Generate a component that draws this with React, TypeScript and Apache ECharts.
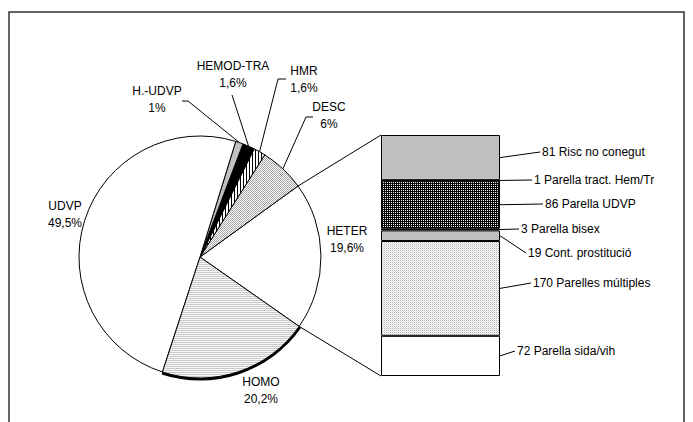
import React, { useEffect, useRef } from 'react';
import * as echarts from 'echarts';

// ---- data ----
const pieNames = ['HETER', 'DESC', 'HMR', 'HEMOD-TRA', 'H.-UDVP', 'UDVP', 'HOMO'];
const pieValues = [19.6, 6, 1.6, 1.6, 1, 49.5, 20.2];

// stacked bar, bottom to top
const barNames = [
  'Parella sida/vih',
  'Parelles múltiples',
  'Cont. prostitució',
  'Parella bisex',
  'Parella UDVP',
  'Parella tract. Hem/Tr',
  'Risc no conegut',
];
const barValues = [72, 170, 19, 3, 86, 1, 81];

// ---- layout ----
const W = 693;
const H = 422;
const PIE_C = [200, 257];
const PIE_R = 121;
const START = -35;
const BAR_LEFT = 381;
const BAR_W = 119;
const BAR_TOP = 135;
const BAR_BOTTOM = 376;
const FONT = "'Liberation Sans', Arial, sans-serif";

// label centers for pie labels
const pieLabelPos: number[][] = [
  [347, 239],
  [329, 115.5],
  [304, 79.5],
  [233, 74.5],
  [157, 99.5],
  [65, 214.5],
  [261, 390.5],
];
// leader line bend points (null = no line)
const pieBends: (number[][] | null)[] = [
  null,
  [[306, 117], [313, 117]],
  [[278, 79], [286, 79]],
  [[232, 95], [232, 95]],
  [[188, 101], [182, 101]],
  null,
  null,
];
// bar label anchors (text left, center y)
const barLabelPos: number[][] = [
  [517, 351],
  [533, 283],
  [528, 253],
  [521, 229],
  [545, 204],
  [534, 180],
  [542, 152],
];

function tile(px: string[][]) {
  const h = px.length;
  const w = px[0].length;
  const c = document.createElement('canvas');
  c.width = w;
  c.height = h;
  const ctx = c.getContext('2d')!;
  for (let y = 0; y < h; y++) {
    for (let x = 0; x < w; x++) {
      ctx.fillStyle = px[y][x];
      ctx.fillRect(x, y, 1, 1);
    }
  }
  return { image: c.toDataURL(), repeat: 'repeat', imageWidth: w, imageHeight: h } as any;
}

export default function App() {
  const ref = useRef<HTMLDivElement>(null);
  useEffect(() => {
    if (!ref.current) return;
    const chart = echarts.init(ref.current, undefined, { renderer: 'svg', width: W, height: H });

    const dotsLight = tile([
      ['#a0a0a0', '#ffffff'],
      ['#ffffff', '#a8a8a8'],
    ]);
    const stripes = tile([['#000000', '#ffffff', '#ffffff']]);
    const hLines = tile([
      ['#c4c4c4', '#d0d0d0'],
      ['#ffffff', '#eeeeee'],
    ]);
    const darkCheck = tile([
      ['#000000', '#ffffff'],
      ['#000000', '#000000'],
    ]);
    const dotsBar = tile([
      ['#b4b4b4', '#ffffff'],
      ['#ffffff', '#dcdcdc'],
    ]);

    const pieColors = ['#ffffff', dotsLight, stripes, '#000000', '#c0c0c0', '#ffffff', hLines];
    const barColors = ['#ffffff', dotsBar, '#c0c0c0', '#000000', darkCheck, '#000000', '#c0c0c0'];

    const fmtPct = (v: number) => String(v).replace('.', ',') + '%';
    const total = barValues.reduce((a, b) => a + b, 0);

    const pieData = pieNames.map((n, i) => ({
      name: n,
      value: pieValues[i],
      itemStyle: { color: pieColors[i] },
      labelLine: { show: pieBends[i] != null },
    }));

    const ringData = pieNames.map((n, i) => ({
      name: n,
      value: pieValues[i],
      itemStyle: { color: n === 'HOMO' ? '#000000' : 'rgba(0,0,0,0)' },
    }));

    const barSeries = barNames.map((n, i) => ({
      type: 'bar',
      name: n,
      stack: 'heter',
      data: [barValues[i]],
      barWidth: '100%',
      itemStyle: { color: barColors[i], borderColor: '#000', borderWidth: 1 },
      label: {
        show: true,
        formatter: () => `${barValues[i]} ${n}`,
        color: '#000',
        fontFamily: FONT,
        fontSize: 12,
      },
      labelLayout: () => ({
        x: barLabelPos[i][0],
        y: barLabelPos[i][1],
        align: 'left',
        verticalAlign: 'middle',
      }),
    }));

    chart.setOption({
      animation: false,
      backgroundColor: '#ffffff',
      grid: {
        left: BAR_LEFT,
        width: BAR_W,
        top: BAR_TOP,
        height: BAR_BOTTOM - BAR_TOP,
        containLabel: false,
      },
      xAxis: { type: 'category', data: [''], show: false },
      yAxis: { type: 'value', min: 0, max: total, show: false },
      series: [
        {
          type: 'pie',
          center: PIE_C,
          radius: PIE_R,
          startAngle: START,
          clockwise: false,
          avoidLabelOverlap: false,
          data: pieData,
          itemStyle: { borderColor: '#000', borderWidth: 1 },
          emphasis: { disabled: true },
          label: {
            show: true,
            position: 'outside',
            formatter: (p: any) => `${p.name}\n${fmtPct(p.value)}`,
            color: '#000',
            fontFamily: FONT,
            fontSize: 12,
            lineHeight: 17,
            align: 'center',
          },
          labelLine: {
            show: true,
            length: 10,
            length2: 10,
            lineStyle: { color: '#000', width: 1 },
          },
          labelLayout: (params: any) => {
            const i = params.dataIndex;
            const p = pieLabelPos[i];
            const res: any = { x: p[0], y: p[1], align: 'center', verticalAlign: 'middle' };
            const b = pieBends[i];
            if (b && params.labelLinePoints) {
              res.labelLinePoints = [params.labelLinePoints[0], b[0], b[1]];
            }
            return res;
          },
        },
        {
          type: 'pie',
          center: PIE_C,
          radius: [PIE_R, PIE_R + 2.5],
          startAngle: START,
          clockwise: false,
          silent: true,
          data: ringData,
          label: { show: false },
          labelLine: { show: false },
          itemStyle: { borderWidth: 0 },
        },
        ...barSeries,
      ],
    });

    // connectors and leader lines computed from the data
    const sumPie = pieValues.reduce((a, b) => a + b, 0);
    const a0 = (START * Math.PI) / 180;
    const a1 = ((START + (360 * pieValues[0]) / sumPie) * Math.PI) / 180;
    const pt = (a: number) => [PIE_C[0] + PIE_R * Math.cos(a), PIE_C[1] - PIE_R * Math.sin(a)];
    const topY = chart.convertToPixel({ yAxisIndex: 0 }, total) as number;
    const botY = chart.convertToPixel({ yAxisIndex: 0 }, 0) as number;
    const pTop = pt(a1);
    const pBot = pt(a0);
    const barRight = BAR_LEFT + BAR_W;

    const graphics: any[] = [
      {
        type: 'rect',
        shape: { x: 9, y: 12, width: 675, height: 440 },
        style: { fill: 'none', stroke: '#333', lineWidth: 1.5 },
        silent: true,
      },
      {
        type: 'line',
        shape: { x1: pTop[0], y1: pTop[1], x2: BAR_LEFT, y2: topY },
        style: { stroke: '#000', lineWidth: 1 },
        silent: true,
      },
      {
        type: 'line',
        shape: { x1: pBot[0], y1: pBot[1], x2: BAR_LEFT, y2: botY },
        style: { stroke: '#000', lineWidth: 1 },
        silent: true,
      },
    ];
    let cum = 0;
    barValues.forEach((v, i) => {
      const mid = chart.convertToPixel({ yAxisIndex: 0 }, cum + v / 2) as number;
      cum += v;
      graphics.push({
        type: 'polyline',
        shape: {
          points: [
            [barRight, mid],
            [barLabelPos[i][0] - 2, barLabelPos[i][1]],
          ],
        },
        style: { stroke: '#000', lineWidth: 1, fill: 'none' },
        silent: true,
      });
    });
    chart.setOption({ graphic: graphics });

    return () => chart.dispose();
  }, []);
  return <div ref={ref} style={{ position: 'fixed', left: 0, top: 0, width: W, height: H }} />;
}
